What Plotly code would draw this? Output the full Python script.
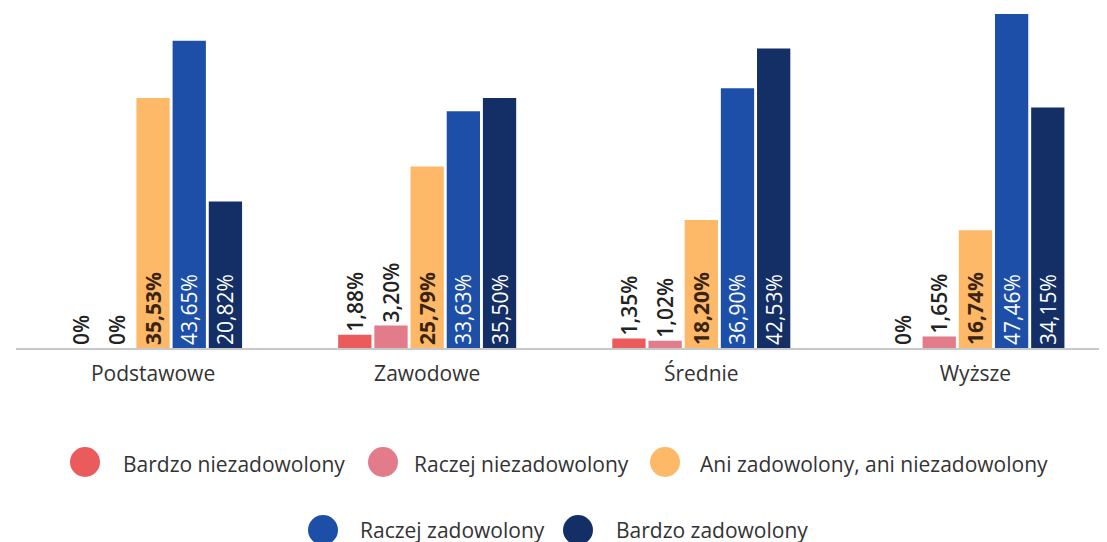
import plotly.graph_objects as go

categories = ["Podstawowe", "Zawodowe", "Średnie", "Wyższe"]
series_names = [
    "Bardzo niezadowolony",
    "Raczej niezadowolony",
    "Ani zadowolony, ani niezadowolony",
    "Raczej zadowolony",
    "Bardzo zadowolony",
]
bardzo_niezad = [0, 1.88, 1.35, 0]
raczej_niezad = [0, 3.20, 1.02, 1.65]
ani = [35.53, 25.79, 18.20, 16.74]
raczej_zad = [43.65, 33.63, 36.90, 47.46]
bardzo_zad = [20.82, 35.50, 42.53, 34.15]
series_values = [bardzo_niezad, raczej_niezad, ani, raczej_zad, bardzo_zad]

colors = ["#EC5B5B", "#E27B8A", "#FDB868", "#1E4FA8", "#142F66"]
text_colors = ["#2A2A2A", "#2A2A2A", "#3A2410", "#FFFFFF", "#FFFFFF"]
text_weight = ["normal", "normal", "bold", "normal", "normal"]
positions = ["outside", "outside", "inside", "inside", "inside"]

FONT = "Open Sans"
OFF = 8  # page body margin
W, H = 1107 - OFF, 542 - OFF
L, R, T, B = 8, 0, 0, 194
PW, PH = W - L - R, H - T - B


def fmt(v):
    if v == 0:
        return "0%"
    return f"{v:.2f}".replace(".", ",") + "%"


fig = go.Figure()
for name, vals, c, tc, tw, pos in zip(series_names, series_values, colors, text_colors, text_weight, positions):
    fig.add_trace(go.Bar(
        name=name, x=categories, y=vals, marker_color=c, marker_line_width=0,
        text=[fmt(v) for v in vals], textposition=pos, textangle=-90,
        insidetextanchor="start", constraintext="none", cliponaxis=False,
        textfont=dict(family=FONT, size=21, color=tc, weight=tw),
        outsidetextfont=dict(family=FONT, size=21, color="#222222", weight=600),
        showlegend=False,
    ))


def px(x):
    return (x - OFF - L) / PW


def py(y):
    return 1 - (y - OFF - T) / PH


# (series index, circle centre x, circle centre y, text left x, text centre y) in page pixels
legend_items = [
    (0, 85, 462, 121, 464),
    (1, 383, 462, 412, 464),
    (2, 665, 462, 698, 464),
    (3, 323, 530, 358, 530),
    (4, 578, 530, 614, 530),
]
shapes = []
annotations = []
rad = 15
for idx, cx, cy, tx, ty in legend_items:
    shapes.append(dict(type="circle", xref="paper", yref="paper",
                       x0=px(cx - rad), x1=px(cx + rad), y0=py(cy + rad), y1=py(cy - rad),
                       fillcolor=colors[idx], line_width=0))
    annotations.append(dict(xref="paper", yref="paper", x=px(tx), y=py(ty), xanchor="left",
                            yanchor="middle", text=series_names[idx], showarrow=False,
                            font=dict(family=FONT, size=21, color="#333333")))

fig.update_layout(
    width=W, height=H, margin=dict(l=L, r=R, t=T, b=B),
    paper_bgcolor="white", plot_bgcolor="white",
    barmode="group", bargap=0.34, bargroupgap=0.08,
    font=dict(family=FONT, color="#333333"),
    shapes=shapes, annotations=annotations,
)
fig.update_xaxes(showline=True, linecolor="#C8C8C8", linewidth=2, ticks="",
                 range=[-0.5, 3.48], ticklabelstandoff=6,
                 tickfont=dict(family=FONT, size=21, color="#333333"), showgrid=False)
fig.update_yaxes(range=[0, 48.3], visible=False, showgrid=False)

fig.write_html("out.html")
